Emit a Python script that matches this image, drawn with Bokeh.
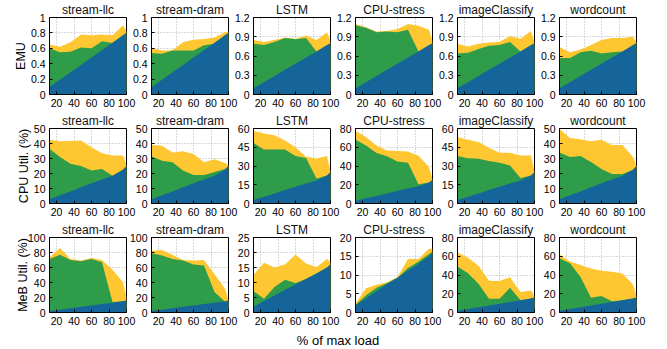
from bokeh.plotting import figure
from bokeh.layouts import row, column
from bokeh.models import Range1d, FixedTicker, CustomJSTickFormatter, Label
from bokeh.embed import file_html
from bokeh.resources import INLINE

# ---------------- data ----------------
load = [12, 24, 36, 48, 60, 72, 84, 96, 100]
x_ticks = [20, 40, 60, 80, 100]
apps = ["stream-llc", "stream-dram", "LSTM", "CPU-stress", "imageClassify", "wordcount"]
row_labels = ["EMU", "CPU Util. (%)", "MeB Util. (%)"]
x_label = "% of max load"

# EMU row
emu_blue = [0.096, 0.192, 0.288, 0.384, 0.48, 0.576, 0.672, 0.768, 0.8]
emu_llc_green = [0.60, 0.55, 0.555, 0.61, 0.60, 0.69, 0.67, 0.77, 0.80]
emu_llc_yellow = [0.65, 0.62, 0.68, 0.78, 0.77, 0.78, 0.77, 0.90, 0.82]
emu_dram_green = [0.54, 0.53, 0.57, 0.57, 0.57, 0.64, 0.66, 0.77, 0.80]
emu_dram_yellow = [0.60, 0.57, 0.575, 0.68, 0.71, 0.72, 0.74, 0.81, 0.82]
emu_lstm_green = [0.79, 0.77, 0.82, 0.88, 0.86, 0.88, 0.67, 0.77, 0.80]
emu_lstm_yellow = [0.85, 0.82, 0.85, 0.89, 0.87, 0.92, 0.85, 0.97, 0.83]
emu_cpu_green = [1.08, 1.04, 0.97, 0.98, 0.97, 1.01, 0.67, 0.77, 0.80]
emu_cpu_yellow = [1.10, 1.05, 0.98, 0.99, 1.02, 1.10, 1.07, 1.01, 0.83]
emu_img_green = [0.64, 0.65, 0.71, 0.76, 0.77, 0.82, 0.67, 0.77, 0.80]
emu_img_yellow = [0.79, 0.75, 0.79, 0.81, 0.82, 0.91, 0.87, 0.99, 0.82]
emu_wc_green = [0.57, 0.57, 0.66, 0.68, 0.64, 0.66, 0.67, 0.77, 0.80]
emu_wc_yellow = [0.74, 0.66, 0.70, 0.77, 0.85, 0.88, 0.88, 0.90, 0.82]

# CPU utilisation row
cpu_blue = [2.8, 5.5, 8.0, 10.8, 13.5, 16.0, 18.5, 22.5, 25.0]
cpu_llc_green = [36.5, 31.0, 26.5, 25.0, 22.0, 23.0, 18.5, 22.5, 25.0]
cpu_llc_yellow = [42.5, 41.5, 41.7, 42.0, 37.5, 33.5, 32.0, 32.0, 25.5]
cpu_dram_green = [31.5, 28.5, 27.5, 22.0, 19.0, 19.0, 21.0, 23.0, 25.0]
cpu_dram_yellow = [39.0, 38.5, 34.0, 34.8, 33.0, 27.5, 29.5, 27.0, 25.5]
cpu_lstm_green = [48.4, 43.3, 43.3, 43.3, 38.0, 36.5, 20.0, 22.5, 25.0]
cpu_lstm_yellow = [58.0, 56.0, 54.6, 50.5, 45.0, 37.5, 36.0, 38.0, 26.0]
cpu_cpu_green = [68.0, 62.0, 54.0, 50.5, 44.8, 43.4, 20.5, 22.5, 25.0]
cpu_cpu_yellow = [77.5, 71.0, 62.0, 56.5, 56.0, 55.5, 51.0, 39.0, 25.5]
cpu_img_green = [38.0, 36.3, 35.8, 34.0, 32.6, 30.4, 20.5, 22.5, 25.0]
cpu_img_yellow = [53.3, 51.0, 49.2, 44.7, 40.6, 40.6, 38.5, 38.5, 25.6]
cpu_wc_green = [34.0, 31.0, 31.6, 27.6, 23.0, 19.7, 19.7, 22.5, 25.0]
cpu_wc_yellow = [49.6, 43.7, 42.8, 41.5, 42.5, 39.0, 39.0, 31.0, 25.3]

# MeB utilisation row
meb_blue = [1.9, 3.8, 5.7, 7.6, 9.3, 11.2, 13.0, 15.0, 16.0]
meb_llc_green = [71.4, 77.0, 70.0, 68.3, 71.4, 67.0, 14.0, 15.0, 16.0]
meb_llc_yellow = [73.6, 85.9, 71.4, 69.5, 72.7, 70.0, 57.0, 40.5, 20.5]
meb_dram_green = [79.0, 76.0, 71.4, 69.2, 64.0, 62.6, 27.3, 14.5, 16.0]
meb_dram_yellow = [82.4, 83.3, 77.0, 70.0, 69.5, 70.0, 51.5, 31.7, 17.0]
meb_lstm_green = [7.1, 4.6, 8.5, 10.9, 9.8, 11.2, 13.0, 15.0, 16.0]
meb_lstm_yellow = [12.5, 16.6, 15.0, 16.0, 19.3, 16.3, 15.2, 17.8, 16.8]
meb_cpu_green = [2.0, 4.6, 6.6, 7.8, 9.3, 11.9, 13.6, 15.6, 16.2]
meb_cpu_yellow = [2.4, 6.5, 7.4, 8.1, 9.5, 14.3, 14.3, 17.0, 17.0]
meb_img_green = [49.0, 42.0, 30.6, 14.8, 14.8, 26.4, 13.0, 15.0, 16.0]
meb_img_yellow = [64.0, 58.5, 50.0, 34.0, 33.5, 37.7, 22.0, 23.5, 17.0]
meb_wc_green = [58.0, 52.6, 37.9, 15.8, 17.6, 12.1, 13.0, 15.0, 16.0]
meb_wc_yellow = [61.8, 54.4, 50.7, 47.0, 44.5, 43.4, 41.5, 29.8, 17.6]

# y tick sets
ticks_emu_a = [0, 0.2, 0.4, 0.6, 0.8, 1]
ticks_emu_b = [0, 0.3, 0.6, 0.9, 1.2]
ticks_50 = [0, 10, 20, 30, 40, 50]
ticks_60 = [0, 15, 30, 45, 60]
ticks_80 = [0, 20, 40, 60, 80]
ticks_100 = [0, 20, 40, 60, 80, 100]
ticks_25 = [0, 5, 10, 15, 20, 25]
ticks_20 = [0, 5, 10, 15, 20]

rows_data = [
    (emu_blue, [(emu_llc_green, emu_llc_yellow, ticks_emu_a), (emu_dram_green, emu_dram_yellow, ticks_emu_a),
                (emu_lstm_green, emu_lstm_yellow, ticks_emu_b), (emu_cpu_green, emu_cpu_yellow, ticks_emu_b),
                (emu_img_green, emu_img_yellow, ticks_emu_b), (emu_wc_green, emu_wc_yellow, ticks_emu_b)]),
    (cpu_blue, [(cpu_llc_green, cpu_llc_yellow, ticks_50), (cpu_dram_green, cpu_dram_yellow, ticks_50),
                (cpu_lstm_green, cpu_lstm_yellow, ticks_60), (cpu_cpu_green, cpu_cpu_yellow, ticks_80),
                (cpu_img_green, cpu_img_yellow, ticks_60), (cpu_wc_green, cpu_wc_yellow, ticks_50)]),
    (meb_blue, [(meb_llc_green, meb_llc_yellow, ticks_100), (meb_dram_green, meb_dram_yellow, ticks_100),
                (meb_lstm_green, meb_lstm_yellow, ticks_25), (meb_cpu_green, meb_cpu_yellow, ticks_20),
                (meb_img_green, meb_img_yellow, ticks_80), (meb_wc_green, meb_wc_yellow, ticks_80)]),
]

# ---------------- style ----------------
BLUE = "#15649a"
GREEN = "#2f9c4a"
YELLOW = "#fec731"
FONT = "Liberation Sans"
frame_heights = [77, 75, 75]
bottom_borders = [17, 17, 20]
label_standoffs = [0, 0, -5]

fmt_code = "return String(Math.round(tick*100)/100);"


def make_panel(ri, ci, title, blue, green, yellow, yticks):
    p = figure(frame_width=77, frame_height=frame_heights[ri],
               x_range=Range1d(12, 100), y_range=Range1d(0, yticks[-1]),
               min_border_left=49, min_border_right=12, min_border_top=17,
               min_border_bottom=bottom_borders[ri],
               toolbar_location=None, output_backend="svg", title=title)
    p.border_fill_color = None
    p.background_fill_color = "white"
    p.outline_line_color = "black"
    p.outline_line_width = 1
    p.title.align = "center"
    p.title.text_font = FONT
    p.title.text_font_size = "12px"
    p.title.text_font_style = "normal"
    p.title.text_color = "#111111"
    p.title.standoff = 1
    p.title.offset = 0

    p.varea(x=load, y1=0, y2=yellow, color=YELLOW)
    p.varea(x=load, y1=0, y2=green, color=GREEN)
    p.varea(x=load, y1=0, y2=blue, color=BLUE)

    p.xaxis.ticker = FixedTicker(ticks=x_ticks)
    p.yaxis.ticker = FixedTicker(ticks=yticks)
    p.yaxis.formatter = CustomJSTickFormatter(code=fmt_code)
    for ax in (p.xaxis[0], p.yaxis[0]):
        ax.major_label_text_font = FONT
        ax.major_label_text_font_size = "10.5px"
        ax.major_label_text_color = "black"
        ax.major_tick_in = 3
        ax.major_tick_out = 0
        ax.minor_tick_line_color = None
        ax.axis_line_color = "black"
        ax.major_tick_line_color = "black"
    p.xaxis.major_label_standoff = 4
    p.yaxis.major_label_standoff = 4

    p.grid.grid_line_color = "#b0b0b0"
    p.grid.grid_line_dash = "1 2"
    p.grid.grid_line_width = 1

    if ci == 0:
        p.yaxis.axis_label = row_labels[ri]
        p.yaxis.axis_label_text_font = FONT
        p.yaxis.axis_label_text_font_size = "12.5px"
        p.yaxis.axis_label_text_font_style = "normal"
        p.yaxis.axis_label_text_color = "black"
        p.yaxis.axis_label_standoff = label_standoffs[ri]
    else:
        p.margin = (0, 0, 0, -36)
    return p


rows = []
for ri, (blue, panels) in enumerate(rows_data):
    figs = []
    for ci, (green, yellow, yt) in enumerate(panels):
        figs.append(make_panel(ri, ci, apps[ci], blue, green, yellow, yt))
    rows.append(row(*figs, spacing=0))

lab = figure(width=667, height=17, x_range=Range1d(0, 1), y_range=Range1d(0, 1),
             x_axis_location=None, y_axis_location=None, min_border=0,
             toolbar_location=None, output_backend="svg", outline_line_color=None)
lab.grid.visible = False
lab.border_fill_color = None
lab.add_layout(Label(x=337.5, y=9, x_units="screen", y_units="screen", text=x_label,
                     text_align="center", text_baseline="middle",
                     text_font=FONT, text_font_size="13px", text_color="black"))

layout = column(*rows, lab, spacing=0)

with open("out.html", "w") as f:
    f.write(file_html(layout, INLINE))
